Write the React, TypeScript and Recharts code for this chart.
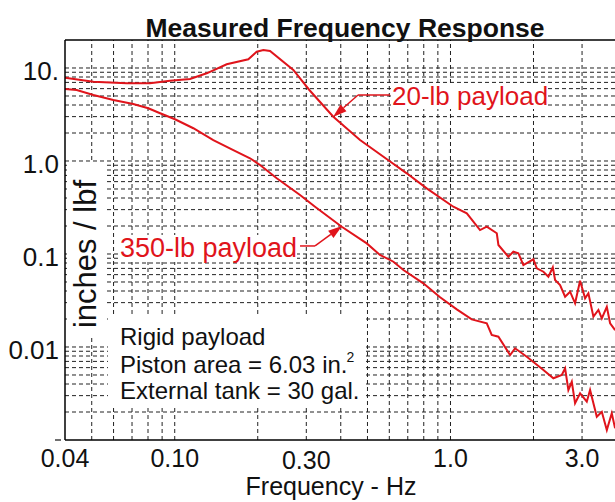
import React from "react";
import { LineChart, Line, XAxis, YAxis, ReferenceLine } from "recharts";

// frequency (Hz) / response (inches per lbf)
const lightFreq = [
  0.04, 0.0507, 0.067, 0.0813, 0.0961, 0.1136, 0.1306, 0.1543, 0.1849, 0.1983,
  0.2096, 0.2216, 0.2692, 0.3077, 0.3759, 0.4699, 0.5953, 0.694, 0.82, 1.024,
  1.146, 1.28, 1.354, 1.472, 1.492, 1.621, 1.69, 1.763, 1.838, 1.998, 2.056,
  2.173, 2.265, 2.35, 2.395, 2.497, 2.604, 2.715, 2.83, 2.951, 3.077, 3.163,
  3.298, 3.439, 3.538, 3.689, 3.792, 3.953,
];
const lightResp = [
  7.86, 7.12, 6.84, 6.84, 7.3, 7.61, 8.77, 10.96, 12.4, 14.97, 15.62, 15.23,
  9.52, 5.8, 2.99, 1.68, 1.02, 0.737, 0.508, 0.3225, 0.274, 0.181, 0.1965,
  0.167, 0.125, 0.0935, 0.1058, 0.1017, 0.0761, 0.0877, 0.0702, 0.0645, 0.057,
  0.0719, 0.0525, 0.0464, 0.0347, 0.0393, 0.0295, 0.0516, 0.0334, 0.0378,
  0.0212, 0.025, 0.0203, 0.0271, 0.018, 0.0152,
];

const heavyFreq = [
  0.04, 0.0441, 0.0507, 0.0599, 0.0707, 0.0802, 0.0885, 0.1002, 0.1168, 0.138,
  0.1631, 0.1875, 0.2039, 0.2344, 0.2847, 0.3227, 0.4033, 0.497, 0.555, 0.621,
  0.675, 0.797, 0.917, 1.054, 1.194, 1.354, 1.411, 1.492, 1.645, 1.715, 1.891,
  2.173, 2.361, 2.533, 2.604, 2.676, 2.754, 2.83, 2.951, 3.121, 3.208, 3.393,
  3.538, 3.689, 3.845, 3.953,
];
const heavyResp = [
  5.94, 5.8, 5.12, 4.53, 4.1, 3.69, 3.26, 2.81, 2.25, 1.68, 1.31, 1.07, 0.906,
  0.652, 0.431, 0.3225, 0.1965, 0.13, 0.0976, 0.0826, 0.0673, 0.0484, 0.0342,
  0.0254, 0.0198, 0.018, 0.01346, 0.0129, 0.0082, 0.00968, 0.00786, 0.00566,
  0.00461, 0.005, 0.0059, 0.00345, 0.00423, 0.00248, 0.00318, 0.00258, 0.00345,
  0.00178, 0.00201, 0.00128, 0.00194, 0.00134,
];

const xTicks = [0.04, 0.1, 0.3, 1, 3];
const xTickText = ["0.04", "0.10", "0.30", "1.0", "3.0"];
const yTicks = [0.001, 0.01, 0.1, 1, 10];
const yTickText = ["", "0.01", "0.1", "1.0", "10."];

const lightData = lightFreq.map((f, i) => ({ f, v: lightResp[i] }));
const heavyData = heavyFreq.map((f, i) => ({ f, v: heavyResp[i] }));

// log grid: 1..9 in every decade (axis lines themselves left out)
const yGrid: number[] = [];
[0.001, 0.01, 0.1, 1, 10].forEach((d) => {
  for (let k = 1; k <= 9; k++) {
    const v = +(k * d).toPrecision(3);
    if (v > 0.001 && v < 20) yGrid.push(v);
  }
});
const xGrid: number[] = [];
[0.01, 0.1, 1].forEach((d) => {
  for (let k = 1; k <= 9; k++) {
    const v = +(k * d).toPrecision(3);
    if (v > 0.04 && v <= 3.95) xGrid.push(v);
  }
});

const RED = "#e0141b";
const FONT = '"Liberation Sans", Arial, Helvetica, sans-serif';
const GRID = { stroke: "#222", strokeDasharray: "4 3", strokeWidth: 1 };

const XTick = ({ x, y, payload }: any) => {
  const i = xTicks.indexOf(payload.value);
  const shift = payload.value === 0.3 ? 2 : 0;
  return (
    <text x={x} y={y + 18 + shift} dy="0.35em" textAnchor="middle" fontSize={25} fill="#111" fontFamily={FONT}>
      {xTickText[i]}
    </text>
  );
};

const YTick = ({ x, y, payload }: any) => {
  const i = yTicks.indexOf(payload.value);
  if (payload.value === 0.001) {
    // bottom decade only has a little dash, no number
    return <line x1={x - 10} y1={y} x2={x - 4} y2={y} stroke="#111" strokeWidth={1.2} />;
  }
  return (
    <text x={x - 6} y={y + 2.5} dy="0.35em" textAnchor="end" fontSize={26} fill="#111" fontFamily={FONT}>
      {yTickText[i]}
    </text>
  );
};

const Arrow = (props: any) => {
  const { x1, y1, x2, y2 } = props;
  const a = Math.atan2(y2 - y1, x2 - x1);
  const len = 14;
  const w = 4.5;
  const bx = x2 - len * Math.cos(a);
  const by = y2 - len * Math.sin(a);
  const px = -Math.sin(a) * w;
  const py = Math.cos(a) * w;
  return (
    <g>
      <line x1={x1} y1={y1} x2={bx} y2={by} stroke={RED} strokeWidth={1.5} />
      <polygon points={`${x2},${y2} ${bx + px},${by + py} ${bx - px},${by - py}`} fill={RED} />
    </g>
  );
};

export default function App() {
  return (
    <div style={{ position: "absolute", left: 0, top: 0, width: 615, height: 502, background: "#fff", fontFamily: FONT, overflow: "hidden" }}>
      <LineChart width={615} height={502} margin={{ top: 40, right: 0, bottom: 0, left: 0 }}>
        <XAxis
          dataKey="f"
          type="number"
          scale="log"
          domain={[0.04, 3.95]}
          allowDataOverflow
          ticks={xTicks}
          height={62}
          tickSize={0}
          tickMargin={0}
          tick={<XTick />}
          axisLine={{ stroke: "#000", strokeWidth: 1.5 }}
        />
        <YAxis
          dataKey="v"
          type="number"
          scale="log"
          domain={[0.001, 20]}
          allowDataOverflow
          ticks={yTicks}
          width={65}
          tickSize={0}
          tickMargin={0}
          tick={<YTick />}
          axisLine={{ stroke: "#000", strokeWidth: 1.5 }}
        />
        {yGrid.map((v) => (
          <ReferenceLine key={"y" + v} y={v} {...GRID} />
        ))}
        {xGrid.map((v) => (
          <ReferenceLine key={"x" + v} x={v} {...GRID} />
        ))}
        <ReferenceLine y={20} stroke="#000" strokeWidth={1.5} />
        <Line data={lightData} dataKey="v" stroke={RED} strokeWidth={2} dot={false} type="linear" isAnimationActive={false} />
        <Line data={heavyData} dataKey="v" stroke={RED} strokeWidth={2} dot={false} type="linear" isAnimationActive={false} />
        <ReferenceLine segment={[{ x: 0.604, y: 5.12 }, { x: 0.462, y: 5.12 }]} stroke={RED} strokeWidth={1.5} />
        <ReferenceLine segment={[{ x: 0.462, y: 5.12 }, { x: 0.375, y: 2.97 }]} shape={<Arrow />} />
        <ReferenceLine segment={[{ x: 0.2847, y: 0.122 }, { x: 0.3227, y: 0.122 }]} stroke={RED} strokeWidth={1.5} />
        <ReferenceLine segment={[{ x: 0.3227, y: 0.122 }, { x: 0.4044, y: 0.2 }]} shape={<Arrow />} />
      </LineChart>

      <div style={{ position: "absolute", left: 345, top: 15, transform: "translateX(-50%)", fontSize: 26.5, lineHeight: "26.5px", fontWeight: "bold", whiteSpace: "nowrap", color: "#111" }}>
        Measured Frequency Response
      </div>
      <div style={{ position: "absolute", left: 331, top: 474, transform: "translateX(-50%)", fontSize: 25, lineHeight: "25px", whiteSpace: "nowrap", color: "#111" }}>
        Frequency - Hz
      </div>

      <div style={{ position: "absolute", left: 67, top: 162, width: 37, height: 176, background: "#fff" }} />
      <div style={{ position: "absolute", left: 85, top: 254, transform: "translate(-50%, -50%) rotate(-90deg)", fontSize: 31, lineHeight: "31px", whiteSpace: "nowrap", color: "#111" }}>
        inches / lbf
      </div>

      <div style={{ position: "absolute", left: 108, top: 316, width: 257, height: 90, background: "#fff" }} />
      <div style={{ position: "absolute", left: 120, top: 325, fontSize: 24, lineHeight: "24px", whiteSpace: "nowrap", color: "#111" }}>
        Rigid payload
      </div>
      <div style={{ position: "absolute", left: 120, top: 352.5, fontSize: 24, lineHeight: "24px", whiteSpace: "nowrap", color: "#111" }}>
        Piston area = 6.03 in.<span style={{ fontSize: 14, position: "relative", top: -11, marginLeft: -1 }}>2</span>
      </div>
      <div style={{ position: "absolute", left: 120, top: 379, fontSize: 24, lineHeight: "24px", whiteSpace: "nowrap", color: "#111" }}>
        External tank = 30 gal.
      </div>

      <div style={{ position: "absolute", left: 392, top: 83, fontSize: 26, lineHeight: "26px", whiteSpace: "nowrap", color: RED, background: "#fff" }}>
        20-lb payload
      </div>
      <div style={{ position: "absolute", left: 120, top: 235, fontSize: 27, lineHeight: "27px", whiteSpace: "nowrap", color: RED, background: "#fff" }}>
        350-lb payload
      </div>
    </div>
  );
}
